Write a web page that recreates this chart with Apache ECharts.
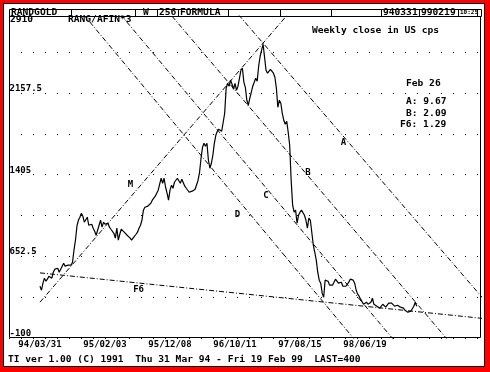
<!DOCTYPE html>
<html><head><meta charset="utf-8">
<script src="https://cdn.jsdelivr.net/npm/echarts@6/dist/echarts.min.js"></script>
<style>
html,body{margin:0;padding:0;background:#ff0000;width:490px;height:372px;overflow:hidden}
#frame{position:absolute;left:3px;top:3px;width:482px;height:364px;box-sizing:border-box;background:#fff;border:1px solid #000;}
#chart{position:absolute;left:0;top:0;width:490px;height:372px}
</style></head><body><div id="frame"></div><div id="chart"></div>
<script>
// Weekly close (US cps), one value per week starting Thu 31 Mar 94
const closes = [
377,340,405,451,423,442,469,479,451,506,534,525,543,506,497,562,589,562,580,571,562,571,598,
709,801,930,985,1013,1050,1022,967,985,1013,939,921,948,912,884,847,838,
939,985,921,967,948,930,958,921,902,893,865,820,912,801,856,902,893,875,865,847,838,820,801,820,838,856,875,912,939,985,
1078,1105,1096,1115,1124,1142,1170,1188,1207,1225,1262,1317,1372,1326,1372,1289,1234,1170,1262,1308,1280,1335,1317,1372,1354,1326,1363,1345,1299,1280,1262,1243,1234,1253,1243,1271,1289,1354,1427,
1556,1657,1694,1666,1694,1538,1464,1510,1584,1694,1768,1805,1824,1833,1805,1796,1971,2201,2247,2220,2275,2238,2192,2247,2183,2220,2293,2367,2386,2256,2210,2091,2045,2109,2164,2220,2256,2293,2266,2404,2496,2552,2607,2487,2367,2340,2358,2376,2367,2340,
2303,2201,2026,2091,2063,1970,1906,1869,1897,1796,1676,1353,1124,1059,1078,958,1031,1059,1078,1096,1031,985,912,1004,985,967,755,690,617,506,433,405,313,276,433,451,423,387,405,387,414,442,451,405,387,414,377,359,377,387,414,442,451,433,405,340,304,285,258,248,211,221,230,211,193,230,267,211,193,193,184,175,193,211,193,184,193,221,230,221,221,193,184,202,193,184,193,175,156,147,138,138,147,156,193,230,193
];
// x tick labels every 44 weeks
const xLabels = ['94/03/31','95/02/03','95/12/08','96/10/11','97/08/15','98/06/19'];
const xLabelStep = 44;
// y tick labels
const yLabelValues = [-100, 652.5, 1405, 2157.5];
const yLabelTexts = ['-100','652.5','1405','2157.5'];
// trend lines: [week, value] endpoints
const lineA = [[130,2948],[310,105]];
const lineB = [[85,2935],[280,-182]];
const lineC = [[50,2954],[245,-208]];
const lineD = [[25,2954],[220,-230]];
const lineM = [[0,230],[175,2997]];
const lineF6 = [[0,500],[310,66]];
// line annotations: [text, week, value]
const lineLabels = [['M',61.3,1312],['D',133.7,1041],['C',153.0,1207],['B',181.4,1423],['A',205.4,1699],['F6',66.7,345]];

const FF = '"DejaVu Sans Mono", "Liberation Mono", monospace';
const priceData = closes.map((v,i)=>[i,v]);

function txt(s, x, y, o){
  o = o || {};
  return {type:'text', x:x, y:y, scaleX: o.sx || 1.2, z:100,
    style:{text:s, x:0, y:0, fill:'#000', fontFamily:FF, fontSize:o.fs||8, fontWeight:'bold',
      align:o.align||'left', verticalAlign:'middle', textAlign:o.align||'left', textVerticalAlign:'middle'}};
}
function vline(x, y1, y2){
  return {type:'line', z:100, shape:{x1:x,y1:y1,x2:x,y2:y2}, style:{stroke:'#000', lineWidth:1}};
}
const trendStyle = {color:'#000', width:1, type:[5,2,1,2]};
function trend(d){
  return {type:'line', data:d, symbol:'none', silent:true, lineStyle:trendStyle, z:3, animation:false};
}

const chart = echarts.init(document.getElementById('chart'), null, {renderer:'canvas'});
chart.setOption({
  animation:false,
  grid:{left:7.5, right:9, top:16, bottom:34},
  xAxis:{type:'value', min:-22, max:298.5, interval:22,
    axisLine:{show:false}, axisTick:{show:false}, splitLine:{show:false},
    axisLabel:{margin:2, fontFamily:FF, fontSize:9, fontWeight:'bold', color:'#000', showMaxLabel:false,
      formatter:function(v){ const k=Math.round(v/xLabelStep); if(Math.abs(v-k*xLabelStep)<1e-6 && k>=0 && k<xLabels.length) return xLabels[k]; return ''; }}},
  yAxis:{type:'value', min:-100, max:2867, interval:376.25,
    axisLine:{show:false}, axisTick:{show:false},
    splitLine:{show:true, lineStyle:{color:'#000', width:1, type:[1,11], dashOffset:10.5}},
    axisLabel:{inside:true, margin:2, align:'left', verticalAlign:'bottom', fontFamily:FF, fontSize:9, fontWeight:'bold', color:'#000',
      formatter:function(v){ for(let i=0;i<yLabelValues.length;i++){ if(Math.abs(v-yLabelValues[i])<1e-6) return yLabelTexts[i]; } return ''; }}},
  series:[
    trend(lineA), trend(lineB), trend(lineC), trend(lineD), trend(lineM), trend(lineF6),
    {type:'line', data:priceData, symbol:'none', lineStyle:{color:'#000', width:1.2}, z:5, animation:false},
    {type:'scatter', data:lineLabels.map(l=>({name:l[0], value:[l[1],l[2]]})), symbolSize:0,
      itemStyle:{color:'#000'}, z:6, silent:true,
      label:{show:true, position:'inside', formatter:'{b}', fontFamily:FF, fontSize:9, fontWeight:'bold',
        color:'#000', textBorderWidth:0, opacity:1}}
  ],
  graphic:[
    {type:'rect', z:100, shape:{x:9.5,y:16.5,width:471,height:321}, style:{fill:'none', stroke:'#000', lineWidth:1}},
    {type:'rect', z:100, shape:{x:9.5,y:9.5,width:472,height:7}, style:{fill:'none', stroke:'#000', lineWidth:1}},
    vline(71.5,9.5,16.5), vline(135.5,9.5,16.5), vline(157.5,9.5,16.5), vline(178.5,9.5,16.5),
    vline(228.5,9.5,16.5), vline(280.5,9.5,16.5), vline(331.5,9.5,16.5), vline(381.5,9.5,16.5),
    vline(419.5,9.5,16.5), vline(458.5,9.5,16.5), vline(477.5,9.5,16.5),
    txt('RANDGOLD',11,13), txt('W',143,13), txt('256',159,13), txt('FORMULA',180,13),
    txt('940331',383,13), txt('990219',421,13), txt('10:25',460,12.5,{fs:6,sx:1}),
    txt('2910',10,19.5), txt('RANG/AFIN*3',68,19.5),
    txt('Weekly close in US cps',312,31),
    txt('Feb 26',406,83.5), txt('A: 9.67',406,101.5), txt('B: 2.09',406,113.5), txt('F6: 1.29',400,124.5),
    txt('TI ver 1.00 (C) 1991  Thu 31 Mar 94 - Fri 19 Feb 99  LAST=400',8,360)
  ]
});
</script></body></html>
